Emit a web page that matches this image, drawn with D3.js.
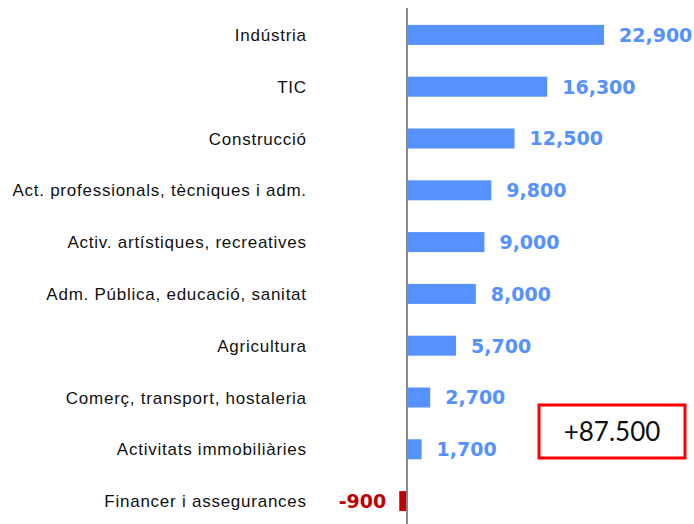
<!DOCTYPE html>
<html>
<head>
<meta charset="utf-8">
<script src="https://cdn.jsdelivr.net/npm/d3@7"></script>
<style>
  body { margin: 0; background: #fff; }
  svg { display: block; }
</style>
</head>
<body>
<div id="chart"></div>
<script>
const categories = [
    "Indústria", "TIC", "Construcció", "Act. professionals, tècniques i adm.",
    "Activ. artístiques, recreatives", "Adm. Pública, educació, sanitat",
    "Agricultura", "Comerç, transport, hostaleria", "Activitats immobiliàries",
    "Financer i assegurances"
];
const values = [22900, 16300, 12500, 9800, 9000, 8000, 5700, 2700, 1700, -900];
const totalLabel = "+87.500";

const width = 694, height = 524;
const zeroX = 407;

const svg = d3.select("#chart").append("svg")
    .attr("width", width)
    .attr("height", height);

const x = d3.scaleLinear()
    .domain([0, 22900])
    .range([zeroX, 604]);

const y = d3.scaleBand()
    .domain(categories)
    .range([9, 527])
    .paddingInner(0.6)
    .paddingOuter(0.3);

// plain hyphen for negatives, like the original
const fmt = d => d3.format(",")(d).replace("−", "-");

// bars
svg.selectAll(".bar")
    .data(values)
    .enter()
    .append("rect")
    .attr("class", "bar")
    .attr("x", d => Math.min(x(0), x(d)))
    .attr("y", (d, i) => y(categories[i]) + y.bandwidth() / 2 - 10)
    .attr("width", d => Math.abs(x(d) - x(0)))
    .attr("height", 20)
    .style("fill", d => d < 0 ? "#C00000" : "#5591FF");

// zero axis
svg.append("line")
    .attr("x1", x(0)).attr("x2", x(0))
    .attr("y1", 8).attr("y2", height)
    .style("stroke", "#888")
    .style("stroke-width", 2);

// value labels
svg.selectAll(".val")
    .data(values)
    .enter()
    .append("text")
    .attr("class", "val")
    .attr("x", d => d < 0 ? x(d) - 13 : x(d) + 15)
    .attr("y", (d, i) => y(categories[i]) + y.bandwidth() / 2)
    .attr("dy", "0.36em")
    .attr("text-anchor", d => d < 0 ? "end" : "start")
    .style("font-family", "'DejaVu Sans', sans-serif")
    .style("font-weight", "bold")
    .style("font-size", "19px")
    .style("fill", d => d < 0 ? "#C00000" : "#5591FF")
    .text(d => fmt(d));

// category labels
svg.selectAll(".cat")
    .data(categories)
    .enter()
    .append("text")
    .attr("class", "cat")
    .attr("x", 306.8)
    .attr("y", d => y(d) + y.bandwidth() / 2)
    .attr("dy", "0.36em")
    .attr("text-anchor", "end")
    .style("font-family", "'Liberation Sans', Arial, sans-serif")
    .style("font-size", "17px")
    .style("letter-spacing", "0.75px")
    .style("fill", "#111")
    .text(d => d);

// total box
svg.append("rect")
    .attr("x", 539).attr("y", 405)
    .attr("width", 146).attr("height", 53)
    .style("fill", "none")
    .style("stroke", "#FF0000")
    .style("stroke-width", 3);

svg.append("text")
    .attr("x", 612).attr("y", 432)
    .attr("dy", "0.36em")
    .attr("text-anchor", "middle")
    .style("font-family", "Lato, 'Open Sans', sans-serif")
    .style("font-size", "26px")
    .style("fill", "#111")
    .text(totalLabel);
</script>
</body>
</html>
